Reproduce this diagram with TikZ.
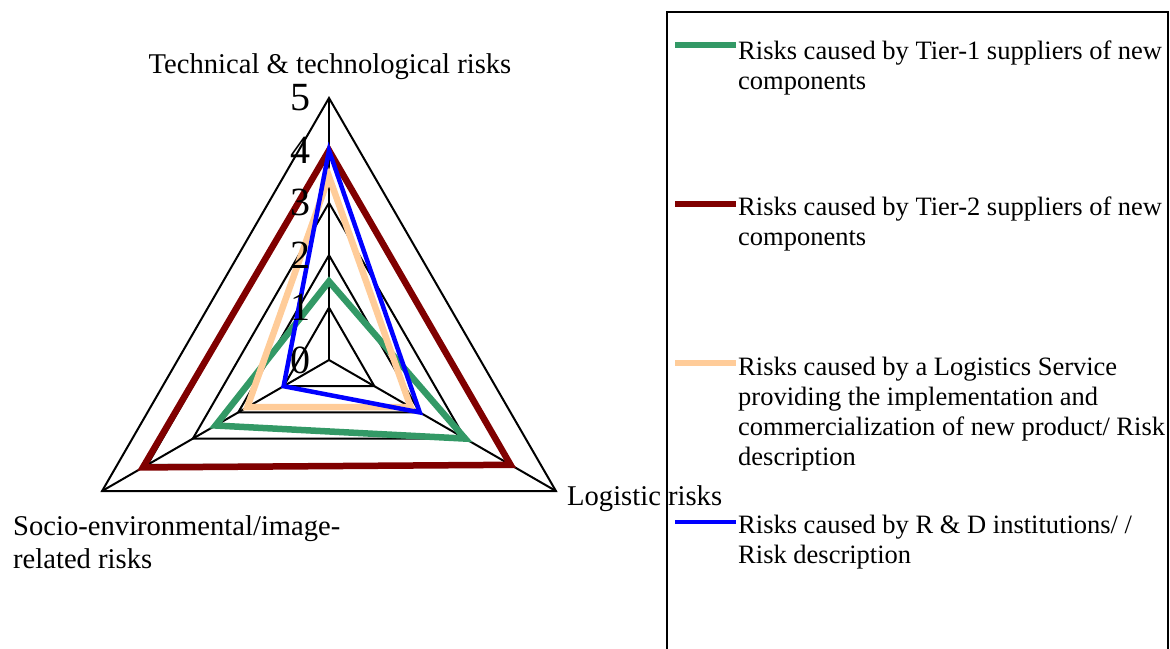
\documentclass[tikz,border=0pt]{standalone}
\usepackage{fontspec}
\setmainfont{Liberation Serif}
\definecolor{sgreen}{RGB}{51,153,102}
\definecolor{dred}{RGB}{128,0,0}
\definecolor{peach}{RGB}{255,204,153}
\definecolor{pblue}{RGB}{0,0,255}
\begin{document}
\begin{tikzpicture}[x=1pt,y=1pt,
  gridline/.style={black,line width=2pt,line join=miter},
  series/.style={line width=6.5pt,line join=miter,miter limit=10},
  bseries/.style={line width=4.5pt,line join=miter,miter limit=10},
  axislab/.style={inner sep=0pt,font=\fontsize{28.6}{33}\selectfont},
  leglab/.style={inner sep=0pt,anchor=base west,font=\fontsize{26.5}{30}\selectfont},
  numlab/.style={inner sep=0pt,font=\fontsize{40}{40}\selectfont}]
\useasboundingbox (0,0) rectangle (1170,-648);
\def\u{52.4}
\coordinate (C) at (329,-360);
\begin{scope}[shift={(C)}]
  \foreach \k in {1,...,5}
    \draw[gridline] (90:{\k*\u}) -- (-30:{\k*\u}) -- (210:{\k*\u}) -- cycle;
  \coordinate (O) at (0,0);
  \coordinate (vt) at (90:{5*\u});
  \coordinate (vr) at (-30:{5*\u});
  \coordinate (vl) at (210:{5*\u});
  \draw[gridline] (O) -- (vt);
  \draw[gridline] (O) -- (vr);
  \draw[gridline] (O) -- (vl);
  % series
  \draw[series,sgreen] (90:{1.5*\u}) -- (-30:{3*\u}) -- (210:{2.5*\u}) -- cycle;
  \draw[series,dred] (90:{4*\u}) -- (-30:{4*\u}) -- (210:{4.1*\u}) -- cycle;
  \draw[series,peach] (90:{3.5*\u}) -- (-30:{1.8*\u}) -- (210:{1.8*\u}) -- cycle;
  \draw[bseries,pblue] (90:{4*\u}) -- (-30:{2*\u}) -- (210:{1*\u}) -- cycle;
\end{scope}
% scale numbers
\foreach \k in {0,...,5}
  \node[numlab] (n\k) at (300,{-360+\k*\u}) {\k};
% axis labels
\node[axislab,anchor=base] (tlab) at (330,-73.5) {Technical \& technological risks};
\node[axislab,anchor=base west] (llab) at (567,-505) {Logistic risks};
\node[axislab,anchor=base west] (slab1) at (13,-535) {Socio-environmental/image-};
\node[axislab,anchor=base west] (slab2) at (13,-568) {related risks};
% legend box
\draw[line width=2pt] (667,-660) -- (667,-12) -- (1168,-12) -- (1168,-660);
% legend samples
\coordinate (g1) at (675,-45);  \coordinate (g2) at (736,-45);
\coordinate (r1) at (675,-204); \coordinate (r2) at (736,-204);
\coordinate (p1) at (675,-363); \coordinate (p2) at (736,-363);
\coordinate (b1) at (675,-522); \coordinate (b2) at (736,-522);
\draw[line width=6.5pt,sgreen] (g1) -- (g2);
\draw[line width=6.5pt,dred] (r1) -- (r2);
\draw[line width=6.5pt,peach] (p1) -- (p2);
\draw[line width=4.5pt,pblue] (b1) -- (b2);
% legend texts
\node[leglab] (l1a) at (738,-59) {Risks caused by Tier-1 suppliers of new};
\node[leglab] (l1b) at (738,-89) {components};
\node[leglab] (l2a) at (738,-215) {Risks caused by Tier-2 suppliers of new};
\node[leglab] (l2b) at (738,-245) {components};
\node[leglab] (l3a) at (738,-375) {Risks caused by a Logistics Service};
\node[leglab] (l3b) at (738,-405) {providing the implementation and};
\node[leglab] (l3c) at (738,-435) {commercialization of new product/ Risk};
\node[leglab] (l3d) at (738,-465) {description};
\node[leglab] (l4a) at (738,-533) {Risks caused by R \& D institutions/ /};
\node[leglab] (l4b) at (738,-563) {Risk description};
\end{tikzpicture}
\end{document}
